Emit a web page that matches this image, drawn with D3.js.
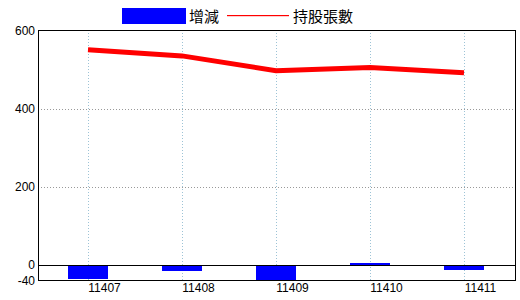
<!DOCTYPE html>
<html>
<head>
<meta charset="utf-8">
<script src="https://cdn.jsdelivr.net/npm/d3@7"></script>
<style>
  body { margin: 0; background: #fff; }
  text { font-family: "Liberation Sans", Arial, sans-serif; }
</style>
</head>
<body>
<svg id="chart"></svg>
<script>
const categories = ["11407", "11408", "11409", "11410", "11411"];
const changeValues = [-36, -15, -42, 5, -13];     // 增減
const holderValues = [551, 535, 497, 505, 492];   // 持股張數
const yTicks = [600, 400, 200, 0, -40];

const width = 520, height = 300;
const frame = { left: 38, right: 516, top: 30, bottom: 280 };

const svg = d3.select("#chart").attr("width", width).attr("height", height);

const x = d3.scaleBand().domain(categories).range([41, 511]);
const xc = d => x(d) + x.bandwidth() / 2;
const y = d3.scaleLinear().domain([-40, 600]).range([frame.bottom + 0.5, frame.top + 0.5]);

svg.append("defs").append("clipPath").attr("id", "plot")
  .append("rect")
  .attr("x", frame.left).attr("y", frame.top)
  .attr("width", frame.right - frame.left).attr("height", frame.bottom - frame.top);

// vertical grid
svg.append("g").selectAll("line").data(categories).join("line")
  .attr("x1", d => Math.round(xc(d)) + 0.5).attr("x2", d => Math.round(xc(d)) + 0.5)
  .attr("y1", frame.top).attr("y2", frame.bottom)
  .attr("stroke", "#9dc3d6").attr("stroke-dasharray", "1,2");

// horizontal grid
svg.append("g").selectAll("line").data(yTicks.filter(v => v !== 0 && v !== 600 && v !== -40)).join("line")
  .attr("x1", frame.left).attr("x2", frame.right)
  .attr("y1", d => Math.round(y(d)) + 0.5).attr("y2", d => Math.round(y(d)) + 0.5)
  .attr("stroke", "#999").attr("stroke-dasharray", "1,2");

// bars
svg.append("g").attr("clip-path", "url(#plot)")
  .selectAll("rect").data(categories).join("rect")
  .attr("x", (d, i) => xc(d) - 20)
  .attr("width", 40)
  .attr("y", (d, i) => y(Math.max(0, changeValues[i])))
  .attr("height", (d, i) => Math.abs(y(changeValues[i]) - y(0)))
  .attr("fill", "#0000ff")
  .attr("shape-rendering", "crispEdges");

// zero line
svg.append("line")
  .attr("x1", frame.left).attr("x2", frame.right)
  .attr("y1", Math.round(y(0)) + 0.5).attr("y2", Math.round(y(0)) + 0.5)
  .attr("stroke", "#000").attr("stroke-width", 1);

// holder line
const line = d3.line().x((d, i) => xc(categories[i])).y(d => y(d));
svg.append("path")
  .datum(holderValues)
  .attr("d", line)
  .attr("fill", "none")
  .attr("stroke", "#ff0000")
  .attr("stroke-width", 5);

// frame
svg.append("rect")
  .attr("x", frame.left + 0.5).attr("y", frame.top + 0.5)
  .attr("width", frame.right - frame.left - 1).attr("height", frame.bottom - frame.top)
  .attr("fill", "none").attr("stroke", "#000").attr("stroke-width", 1.3)
  .attr("shape-rendering", "crispEdges");

// y labels
svg.append("g").selectAll("text").data(yTicks).join("text")
  .attr("x", 35).attr("y", d => y(d))
  .attr("dy", "0.36em")
  .attr("text-anchor", "end")
  .attr("font-size", 12)
  .text(d => d);

// x labels
svg.append("g").selectAll("text").data(categories).join("text")
  .attr("x", d => xc(d) + 16.5).attr("y", 292)
  .attr("text-anchor", "middle")
  .attr("font-size", 12)
  .text(d => d);

// legend
const legend = svg.append("g");
legend.append("rect").attr("x", 122).attr("y", 8).attr("width", 64).attr("height", 16).attr("fill", "#0000ff");
legend.append("text").attr("x", 189).attr("y", 22).attr("font-size", 15)
  .style("font-family", "'Noto Sans CJK TC', sans-serif").text("增減");
legend.append("rect").attr("x", 227).attr("y", 15).attr("width", 62).attr("height", 1.2)
  .attr("fill", "#ff0000");
legend.append("text").attr("x", 293).attr("y", 22).attr("font-size", 15)
  .style("font-family", "'Noto Sans CJK TC', sans-serif").text("持股張數");
</script>
</body>
</html>
